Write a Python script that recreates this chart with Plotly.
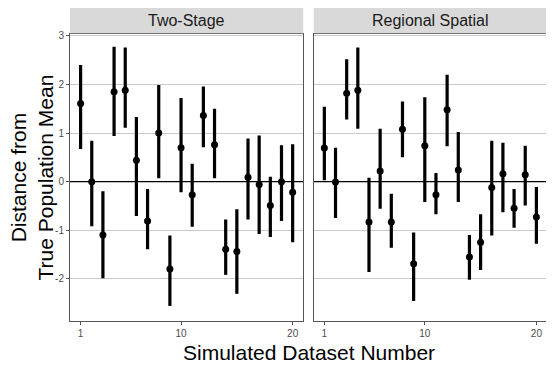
import plotly.graph_objects as go
from plotly.subplots import make_subplots

datasets = list(range(1, 21))
panels = ["Two-Stage", "Regional Spatial"]

# Two-Stage estimates and interval bounds
ts_est = [1.61, 0.00, -1.10, 1.85, 1.88, 0.44, -0.81, 1.00, -1.80, 0.70,
          -0.27, 1.36, 0.76, -1.39, -1.44, 0.09, -0.06, -0.49, 0.00, -0.22]
ts_upper = [2.40, 0.84, -0.20, 2.78, 2.76, 1.33, -0.15, 1.99, -1.11, 1.72,
            0.37, 1.96, 1.50, -0.78, -0.57, 0.89, 0.95, 0.10, 0.75, 0.77]
ts_lower = [0.67, -0.92, -1.99, 0.94, 1.11, -0.71, -1.39, 0.07, -2.56, -0.22,
            -0.93, 0.71, 0.07, -1.92, -2.31, -0.78, -1.08, -1.14, -0.81, -1.25]

# Regional Spatial estimates and interval bounds
rs_est = [0.69, -0.01, 1.82, 1.88, -0.83, 0.22, -0.83, 1.08, -1.69, 0.74,
          -0.27, 1.48, 0.24, -1.55, -1.25, -0.12, 0.16, -0.55, 0.14, -0.73]
rs_upper = [1.54, 0.70, 2.52, 2.76, 0.08, 1.09, -0.25, 1.65, -1.05, 1.74,
            0.18, 2.20, 1.02, -1.10, -0.67, 0.84, 0.80, -0.15, 0.74, -0.11]
rs_lower = [0.03, -0.75, 1.28, 1.09, -1.86, -0.56, -1.36, 0.50, -2.46, -0.42,
            -0.67, 0.73, -0.42, -2.02, -1.82, -1.11, -0.63, -0.95, -0.49, -1.28]

y_ticks = [-2, -1, 0, 1, 2, 3]
y_labels = ["-2", "-1", "0", "1", "2", "3"]
x_ticks = [1, 10, 20]

FONT = "Liberation Sans, Arial, sans-serif"

# the page body has an 8px margin, so the canvas is 8px smaller each way
W, H = 546, 361
ML, MR, MT, MB = 62, 7, 26, 48
PW, PH = W - ML - MR, H - MT - MB

fig = make_subplots(rows=1, cols=2, shared_yaxes=True, horizontal_spacing=0.022)

series = [(ts_est, ts_upper, ts_lower), (rs_est, rs_upper, rs_lower)]
for col, (est, up, lo) in enumerate(series, start=1):
    # zero reference line
    fig.add_trace(go.Scatter(x=[-5, 30], y=[0, 0], mode="lines",
                             line=dict(color="black", width=1.2),
                             hoverinfo="skip", showlegend=False), row=1, col=col)
    fig.add_trace(go.Scatter(
        x=datasets, y=est, mode="markers",
        marker=dict(color="black", size=7),
        error_y=dict(type="data", symmetric=False,
                     array=[u - e for u, e in zip(up, est)],
                     arrayminus=[e - l for e, l in zip(est, lo)],
                     color="black", thickness=3.2, width=0),
        showlegend=False), row=1, col=col)

axis_style = dict(showline=True, mirror=True, linecolor="#555555", linewidth=1,
                  ticks="outside", ticklen=3, tickcolor="#555555",
                  tickfont=dict(family=FONT, size=10, color="#4d4d4d"),
                  zeroline=False)

for col in (1, 2):
    fig.update_xaxes(axis_style, range=[0.05, 20.95], tickvals=x_ticks,
                     showgrid=False, row=1, col=col)
    fig.update_yaxes(axis_style, range=[-2.87, 3.04], tickvals=y_ticks,
                     ticktext=y_labels, showgrid=True, gridcolor="#c9c9c9",
                     gridwidth=1, row=1, col=col)
fig.update_yaxes(showticklabels=False, ticks="", row=1, col=2)

# facet strips
strip_top = 1 + MT / PH
for i, name in enumerate(panels):
    xref = "x domain" if i == 0 else "x2 domain"
    fig.add_shape(type="rect", xref=xref, yref="paper", x0=0, x1=1,
                  y0=1.003, y1=strip_top, fillcolor="#d9d9d9", line_width=0)
    fig.add_annotation(xref=xref, yref="paper", x=0.5, y=1 + 13 / PH,
                       yanchor="middle", text=name, showarrow=False,
                       font=dict(family=FONT, size=16, color="#1a1a1a"))

fig.add_annotation(xref="paper", yref="paper", x=0.5, y=-31 / PH,
                   yanchor="middle", text="Simulated Dataset Number",
                   showarrow=False,
                   font=dict(family=FONT, size=21, color="black"))
fig.add_annotation(xref="paper", yref="paper", x=-39 / PW, y=0.5,
                   xanchor="center", yanchor="middle", textangle=-90,
                   text="Distance from<br>True Population Mean", showarrow=False,
                   font=dict(family=FONT, size=21, color="black"))

fig.update_layout(width=W, height=H,
                  margin=dict(l=ML, r=MR, t=MT, b=MB),
                  plot_bgcolor="white", paper_bgcolor="white",
                  font=dict(family=FONT))

fig.write_html("out.html")
